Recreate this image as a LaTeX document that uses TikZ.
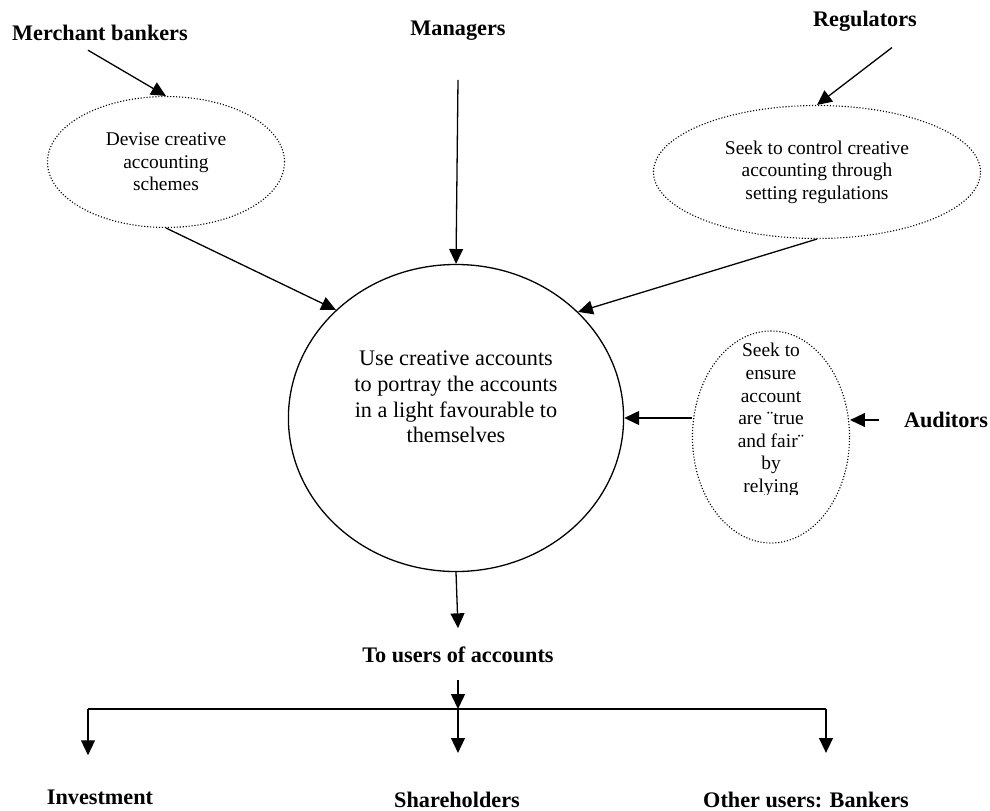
\documentclass[tikz,border=0pt]{standalone}
\usepackage{fontspec}
\setmainfont{Liberation Serif}
\usepackage{tikz}
\usetikzlibrary{arrows.meta,shapes.geometric}

\begin{document}
\begin{tikzpicture}[
  x=0.54pt, y=-0.54pt,
  font=\fontsize{12}{13.8}\selectfont,
  who/.style ={font=\fontsize{12}{13.8}\selectfont\bfseries, inner sep=0pt},
  idea/.style={draw, ellipse, dash pattern=on 0.6pt off 1pt, line width=0.6pt,
               align=center, inner sep=0pt, font=\fontsize{10.5}{12.2}\selectfont},
  arr/.style ={->, line width=0.7pt},
  >={Triangle[length=8pt, width=7.5pt]}]
\useasboundingbox (0,0) rectangle (990,811);
\node[who] (mb)  at (100,33)  {Merchant bankers};
\node[who] (mgr) at (458,31)  {Managers};
\node[who] (rg)  at (865,21)  {Regulators};
\node[who] (au)  at (946,420) {Auditors};
\node[idea, minimum width=128pt, minimum height=70.7pt] (dev) at (166,162)
  {Devise creative\\accounting\\schemes};
\node[idea, minimum width=176.6pt, minimum height=71.8pt] (ctl) at (817,172)
  {Seek to control creative\\accounting through\\setting regulations};
\node[idea, minimum width=84.8pt, minimum height=114.5pt] (ens) at (771,437) {};
\begin{scope}
  \clip (690,330) rectangle (855,494);
  \node[align=center, inner sep=0pt, font=\fontsize{10.5}{12.2}\selectfont] (enst) at (771,420)
    {Seek to\\ensure\\account\\are ¨true\\and fair¨\\by\\relying};
\end{scope}
\node[draw, ellipse, line width=0.7pt, minimum width=181pt, minimum height=165.8pt] (use) at (456,418) {};
\node[align=center] (uset) at (456,397)
  {Use creative accounts\\to portray the accounts\\in a light favourable to\\themselves};
\node[who] (to)  at (458,655) {To users of accounts};
\node[who] (inv) at (100,797) {Investment};
\node[who] (sh)  at (457,800) {Shareholders};
\node[who] (oth) at (806,800) {Other users: Bankers};
\coordinate (mid) at (458,709);
\coordinate (lft) at (88,709);
\coordinate (rgt) at (826,709);
% into the accounts
\draw[arr] ([shift={(-12,9)}]mb.south) -- (dev.north);
\draw[arr] ([yshift=-21pt]mgr.south) -- (use.north);
\draw[arr] ([shift={(27,16)}]rg.south) -- (ctl.north);
\draw[arr] ([xshift=-13.5pt]au.west) -- (ens.east |- au.west);
\draw[arr] (dev.south) -- (use.138);
\draw[arr] (ctl.south) -- (use.41);
\draw[arr] (ens.west |- use.east) -- (use.east);
% out to the users
\draw[arr] (use.south) -- ([yshift=10pt]to.north);
\draw[arr] ([yshift=-9pt]to.south) -- (mid);
\draw[line width=0.7pt] (lft) -- (rgt);
\draw[arr, shorten >=18.4pt] (lft) -- (lft |- inv.north);
\draw[arr, shorten >=21pt] (mid) -- (mid |- sh.north);
\draw[arr, shorten >=21pt] (rgt) -- (rgt |- oth.north);
\end{tikzpicture}
\end{document}
